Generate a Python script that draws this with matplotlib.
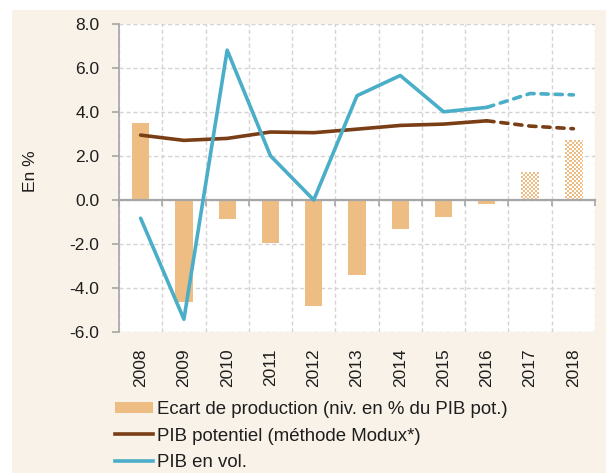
import numpy as np
import matplotlib
matplotlib.use("Agg")
import matplotlib.pyplot as plt
from matplotlib.patches import Rectangle, Patch
from matplotlib.lines import Line2D
from matplotlib.ticker import FixedLocator
from matplotlib.colors import ListedColormap
import matplotlib.font_manager as fm

years = ["2008", "2009", "2010", "2011", "2012", "2013", "2014", "2015", "2016", "2017", "2018"]
ecart = [3.51, -4.62, -0.88, -1.94, -4.84, -3.42, -1.30, -0.76, -0.18, 1.27, 2.75]
pib_potentiel = [2.95, 2.71, 2.80, 3.09, 3.06, 3.22, 3.39, 3.45, 3.60, 3.36, 3.24]
pib_vol = [-0.83, -5.42, 6.81, 2.01, 0.0, 4.74, 5.66, 4.01, 4.21, 4.84, 4.78]
last_actual = "2016"
y_ticks = [-6.0, -4.0, -2.0, 0.0, 2.0, 4.0, 6.0, 8.0]
labels = ["Ecart de production (niv. en % du PIB pot.)",
          "PIB potentiel (méthode Modux*)",
          "PIB en vol."]

ORANGE = "#EDBD83"
BROWN = "#7A3E16"
BLUE = "#4BAEC8"
CREAM = "#F9F2E8"
GRID = "#D4D4D4"
AXIS = "#A6A6A6"
TXT = "#1E1E1E"

names = {f.name for f in fm.fontManager.ttflist}
tick_font = "Liberation Sans" if "Liberation Sans" in names else "DejaVu Sans"
leg_font = "Liberation Sans Narrow" if "Liberation Sans Narrow" in names else tick_font

W, H = 606, 473
fig = plt.figure(figsize=(W / 100, H / 100), dpi=100, facecolor="white")
fig.patches.append(Rectangle((12 / W, 0), 1 - 12 / W, 1 - 10 / H, transform=fig.transFigure,
                             facecolor=CREAM, edgecolor="none", zorder=-10))

ax_l, ax_r, ax_t, ax_b = 119 / W, 595 / W, 1 - 24 / H, 1 - 332 / H
ax = fig.add_axes([ax_l, ax_b, ax_r - ax_l, ax_t - ax_b])
ax.set_facecolor("white")

x = np.arange(len(years))
ia = years.index(last_actual)

# bars
bars = ax.bar(x, ecart, width=0.4, color=ORANGE, zorder=2, linewidth=0)
ax.set_xlim(-0.5, len(years) - 0.5)
ax.set_ylim(y_ticks[0], y_ticks[-1])

# checkered pattern for projected bars (2 px cells, 1 px resolution texture)
nx = int(round((ax_r - ax_l) * W))
ny = int(round((ax_t - ax_b) * H))
ii, jj = np.meshgrid(np.arange(nx), np.arange(ny))
checker = ((ii // 2 + jj // 2) % 2).astype(float)
cmap = ListedColormap([ORANGE, "white"])
for k in range(ia + 1, len(years)):
    bars[k].set_facecolor("none")
    im = ax.imshow(checker, cmap=cmap, extent=(-0.5, len(years) - 0.5, y_ticks[0], y_ticks[-1]),
                   aspect="auto", interpolation="nearest", zorder=2, origin="lower")
    im.set_clip_path(bars[k])
ax.set_xlim(-0.5, len(years) - 0.5)
ax.set_ylim(y_ticks[0], y_ticks[-1])

# lines
lw = 2.6
ax.plot(x[:ia + 1], pib_potentiel[:ia + 1], color=BROWN, lw=lw, zorder=4, solid_capstyle="round")
ax.plot(x[ia:], pib_potentiel[ia:], color=BROWN, lw=lw, zorder=4, linestyle=(0, (2.0, 1.9)),
        dash_capstyle="round")
ax.plot(x[:ia + 1], pib_vol[:ia + 1], color=BLUE, lw=lw, zorder=5, solid_capstyle="round")
ax.plot(x[ia:], pib_vol[ia:], color=BLUE, lw=lw, zorder=5, linestyle=(0, (2.0, 1.9)),
        dash_capstyle="round")

# grid
ax.set_yticks(y_ticks)
ax.xaxis.set_minor_locator(FixedLocator(np.arange(-0.5, len(years), 1.0)))
ax.grid(True, axis="y", which="major", color=GRID, linestyle=(0, (3, 2)), lw=1, zorder=0)
ax.grid(True, axis="x", which="minor", color=GRID, linestyle=(0, (3, 2)), lw=1, zorder=0)
ax.set_axisbelow(True)

for s in ["top", "right"]:
    ax.spines[s].set_visible(False)
ax.spines["left"].set_color(AXIS)
ax.spines["left"].set_linewidth(1.2)
ax.spines["bottom"].set_position(("data", 0))
ax.spines["bottom"].set_color(AXIS)
ax.spines["bottom"].set_linewidth(1.6)
ax.spines["bottom"].set_zorder(3)

ax.set_xticks(x)
ax.tick_params(axis="x", which="major", length=0, labelbottom=False)
ax.tick_params(axis="x", which="minor", length=4, width=1.2, color=AXIS, direction="out")
ax.tick_params(axis="y", length=5, width=1.2, color=AXIS, pad=9, labelsize=12.5, labelcolor=TXT)
ax.set_yticklabels([f"{v:.1f}" for v in y_ticks], fontfamily=tick_font)

sec = ax.secondary_xaxis("bottom")
sec.set_xticks(x)
sec.set_xticklabels(years, rotation=90, fontfamily=tick_font, fontsize=12.5, color=TXT)
sec.tick_params(length=0, pad=12)
sec.spines["bottom"].set_visible(False)

ax.set_ylabel("En %", fontfamily=tick_font, fontsize=12.5, color=TXT)
ax.yaxis.set_label_coords((38 - 119) / 476, (332 - 171) / 308)

handles = [Patch(facecolor=ORANGE, edgecolor="none"),
           Line2D([], [], color=BROWN, lw=lw),
           Line2D([], [], color=BLUE, lw=lw)]
leg = fig.legend(handles, labels, loc="upper left", bbox_to_anchor=(115 / W, 1 - 401 / H),
                 frameon=False, prop={"family": leg_font, "size": 13.4},
                 handlelength=2.05, handleheight=0.6, handletextpad=0.22, labelspacing=0.52,
                 borderpad=0, borderaxespad=0)
for t in leg.get_texts():
    t.set_color(TXT)

fig.savefig("out.png", dpi=100, facecolor=fig.get_facecolor())
